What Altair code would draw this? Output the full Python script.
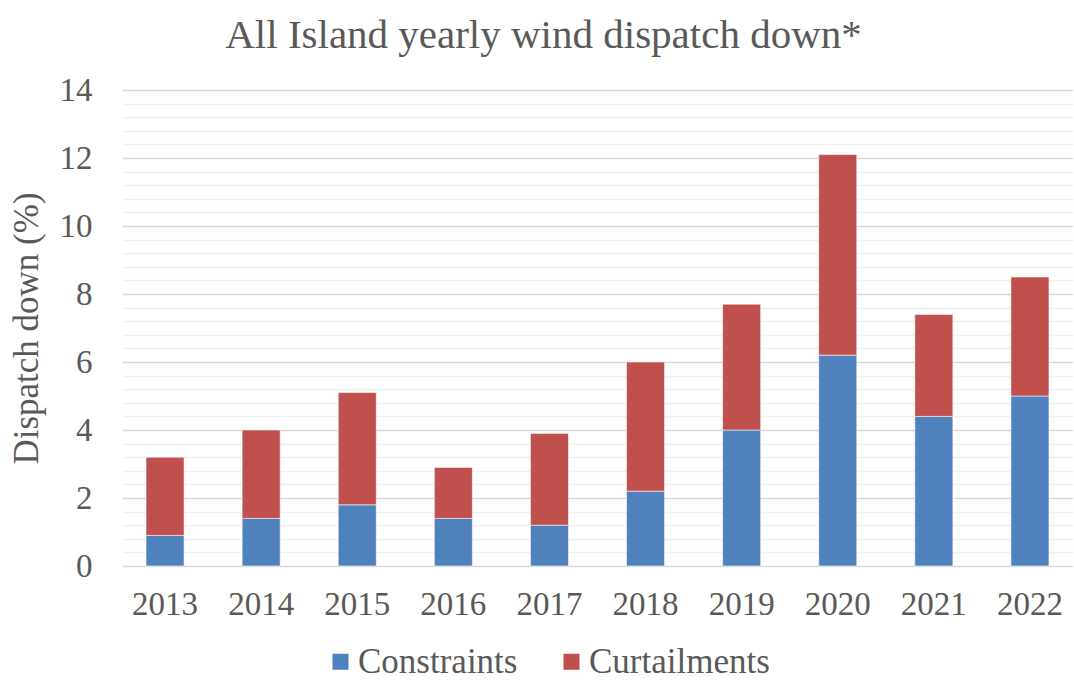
import altair as alt
import pandas as pd

years = ["2013", "2014", "2015", "2016", "2017", "2018", "2019", "2020", "2021", "2022"]
constraints = [0.9, 1.4, 1.8, 1.4, 1.2, 2.2, 4.0, 6.2, 4.4, 5.0]
curtailments = [2.3, 2.6, 3.3, 1.5, 2.7, 3.8, 3.7, 5.9, 3.0, 3.5]
series = ["Constraints", "Curtailments"]
colors = ["#4F81BD", "#C0504D"]
grid_values = [round(i * 0.4, 1) for i in range(36)]

rows = []
for y, c, t in zip(years, constraints, curtailments):
    rows.append({"year": y, "series": series[0], "value": c, "ord": 0})
    rows.append({"year": y, "series": series[1], "value": t, "ord": 1})
df = pd.DataFrame(rows)

FONT = "Liberation Serif"
TXT = "#595959"
MAJOR = "abs(datum.value/2 - round(datum.value/2)) < 0.001"

chart = alt.Chart(df).mark_bar(stroke="white", strokeWidth=0.8, strokeOpacity=0.7).encode(
    x=alt.X("year:N", sort=years, title=None,
            scale=alt.Scale(paddingInner=0.604, paddingOuter=0.25),
            axis=alt.Axis(labelAngle=0, labelFont=FONT, labelFontSize=33, labelColor=TXT,
                          labelPadding=22, ticks=False, tickSize=0, domain=False, grid=False)),
    y=alt.Y("value:Q", stack="zero", title="Dispatch down (%)",
            scale=alt.Scale(domain=[0, 14], nice=False),
            axis=alt.Axis(values=grid_values, format="~g",
                          labelExpr=MAJOR + " ? datum.label : ''",
                          labelFont=FONT, labelFontSize=33, labelColor=TXT, labelPadding=30,
                          ticks=False, tickSize=0, domain=False,
                          gridColor={"condition": {"test": MAJOR, "value": "#D9D9D9"}, "value": "#F0F0F0"},
                          gridWidth=1.5,
                          titleFont=FONT, titleFontSize=35, titleFontWeight="normal", titleColor=TXT,
                          titlePadding=15)),
    color=alt.Color("series:N", scale=alt.Scale(domain=series, range=colors), title=None,
                    legend=alt.Legend(orient="none", legendX=201, legendY=554, direction="horizontal",
                                      symbolType="square", symbolSize=256, symbolStrokeWidth=0,
                                      labelFont=FONT, labelFontSize=35, labelColor=TXT, labelLimit=400,
                                      labelOffset=0, columnPadding=36)),
    order=alt.Order("ord:Q", sort="ascending"),
).properties(
    width=951, height=476,
    title=alt.TitleParams("All Island yearly wind dispatch down*", font=FONT, fontSize=41,
                          fontWeight="normal", color=TXT, anchor="middle", dx=-54, offset=17),
    autosize=alt.AutoSizeParams(type="none"),
    padding={"left": 122, "top": 90, "right": 1, "bottom": 115},
).configure_view(stroke=None)

chart.save("out.html", embed_options={"renderer": "svg", "actions": False})
